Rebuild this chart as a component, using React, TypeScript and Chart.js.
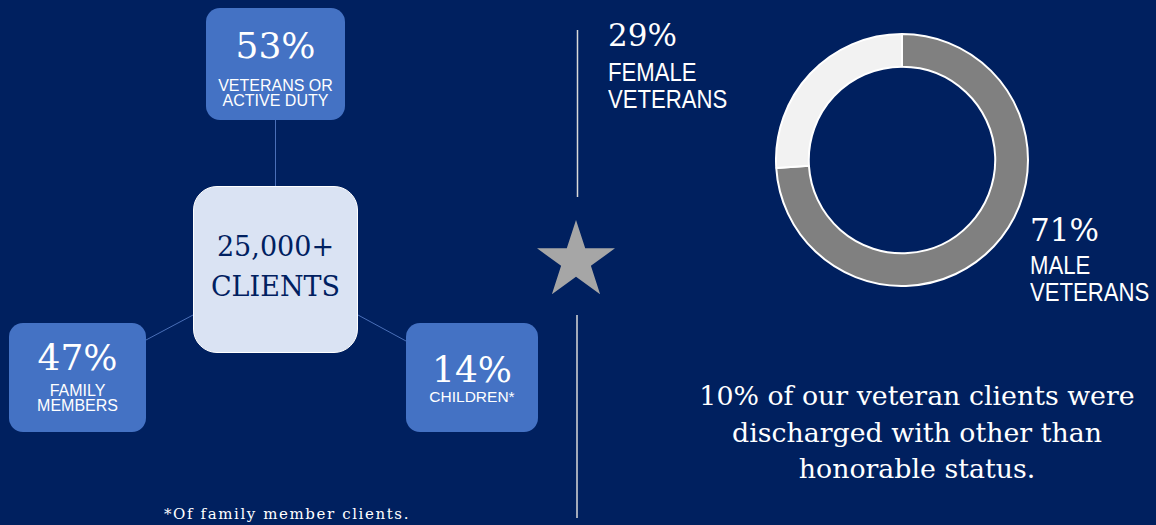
import React, { useEffect, useRef } from "react";
import { Chart, registerables } from "chart.js";

Chart.register(...registerables);

// ---- data ----
const clientTotal = "25,000+";
const clientTotalLabel = "CLIENTS";
const clientGroups = ["VETERANS OR\nACTIVE DUTY", "FAMILY\nMEMBERS", "CHILDREN*"];
const clientShares = [53, 47, 14];
const veteranGenders = ["MALE\nVETERANS", "FEMALE\nVETERANS"];
const veteranShareLabels = [71, 29];
// ring proportions as drawn in the picture
const ringValues = [74, 26];
const dischargeNote = "10% of our veteran clients were\ndischarged with other than\nhonorable status.";
const footnote = "*Of family member clients.";

const BG = "#00205F";
const BOX = "#4472C4";
const SERIF = "'DejaVu Serif', 'Liberation Serif', serif";
const SANS = "'Liberation Sans', Arial, sans-serif";

function Donut() {
  const ref = useRef<HTMLCanvasElement | null>(null);
  useEffect(() => {
    if (!ref.current) return;
    const chart = new Chart(ref.current, {
      type: "doughnut",
      data: {
        labels: veteranGenders.map((s) => s.replace("\n", " ")),
        datasets: [
          {
            data: ringValues,
            backgroundColor: ["#808080", "#F2F2F2"],
            borderColor: "#FFFFFF",
            borderWidth: 2,
          },
        ],
      },
      options: {
        animation: false,
        responsive: false,
        maintainAspectRatio: false,
        cutout: "74%",
        layout: { padding: 0 },
        plugins: { legend: { display: false }, tooltip: { enabled: false } },
      },
    });
    return () => chart.destroy();
  }, []);
  return <canvas ref={ref} width={254} height={254} style={{ position: "absolute", left: 775, top: 33, width: 254, height: 254 }} />;
}

function Box(props: { left: number; top: number; w: number; h: number; pct: number; label: string; pctTop: number; pctSize: number; labelTop: number; labelSize: number; lh: number }) {
  const p = props;
  return (
    <div style={{ position: "absolute", left: p.left, top: p.top, width: p.w, height: p.h, background: BOX, borderRadius: 14, color: "#fff" }}>
      <div style={{ position: "absolute", left: 0, right: 0, top: p.pctTop, textAlign: "center", fontFamily: SERIF, fontSize: p.pctSize, lineHeight: 1 }}>
        {p.pct}%
      </div>
      <div style={{ position: "absolute", left: 0, right: 0, top: p.labelTop, textAlign: "center", fontFamily: SANS, fontSize: p.labelSize, lineHeight: p.lh + "px", whiteSpace: "pre" }}>
        {p.label}
      </div>
    </div>
  );
}

function Star(props: { cx: number; cy: number; r: number }) {
  const pts: string[] = [];
  for (let i = 0; i < 10; i++) {
    const rr = i % 2 === 0 ? props.r : props.r * 0.382;
    const a = -Math.PI / 2 + (i * Math.PI) / 5;
    pts.push(`${props.cx + rr * Math.cos(a)},${props.cy + rr * Math.sin(a)}`);
  }
  return <polygon points={pts.join(" ")} fill="#A6A6A6" />;
}

const narrowStyle: React.CSSProperties = {
  position: "absolute",
  color: "#fff",
  fontFamily: SANS,
  fontSize: 25,
  lineHeight: "27px",
  whiteSpace: "pre",
  transform: "scaleX(0.885)",
  transformOrigin: "left top",
};

export default function App() {
  return (
    <div style={{ position: "absolute", left: 0, top: 0, width: 1156, height: 525, background: BG, overflow: "hidden" }}>
      <svg width={1156} height={525} style={{ position: "absolute", left: 0, top: 0 }}>
        <line x1={275.5} y1={120} x2={275.5} y2={186} stroke="#4A6FB8" strokeWidth={1} />
        <line x1={146} y1={340} x2={193} y2={315} stroke="#4A6FB8" strokeWidth={1} />
        <line x1={358} y1={315} x2={406} y2={341} stroke="#4A6FB8" strokeWidth={1} />
        <line x1={577.5} y1={30} x2={577.5} y2={197} stroke="#D9D9D9" strokeWidth={1.5} />
        <line x1={577} y1={315} x2={577} y2={518} stroke="#D9D9D9" strokeWidth={1.5} />
        <Star cx={576} cy={261} r={41} />
      </svg>

      <Box left={206} top={8} w={139} h={112} pct={clientShares[0]} label={clientGroups[0]} pctTop={20} pctSize={36} labelTop={70} labelSize={16} lh={15} />
      <Box left={9} top={323} w={137} h={109} pct={clientShares[1]} label={clientGroups[1]} pctTop={17} pctSize={36} labelTop={60} labelSize={16} lh={15} />
      <Box left={406} top={323} w={132} h={109} pct={clientShares[2]} label={clientGroups[2]} pctTop={29} pctSize={36} labelTop={66} labelSize={15.5} lh={15} />

      <div style={{ position: "absolute", left: 193, top: 186, width: 165, height: 167, boxSizing: "border-box", background: "#DAE3F3", border: "1.5px solid #FFFFFF", borderRadius: 24, color: "#002060", fontFamily: SERIF, textAlign: "center" }}>
        <div style={{ position: "absolute", left: 0, right: 0, top: 46, fontSize: 27, lineHeight: 1 }}>{clientTotal}</div>
        <div style={{ position: "absolute", left: 0, right: 0, top: 86, fontSize: 27, lineHeight: 1 }}>{clientTotalLabel}</div>
      </div>

      <div style={{ position: "absolute", left: 608, top: 20, color: "#fff", fontFamily: SERIF, fontSize: 31, lineHeight: 1 }}>{veteranShareLabels[1]}%</div>
      <div style={{ ...narrowStyle, left: 608, top: 59 }}>{veteranGenders[1]}</div>

      <div style={{ position: "absolute", left: 1030, top: 215, color: "#fff", fontFamily: SERIF, fontSize: 31, lineHeight: 1 }}>{veteranShareLabels[0]}%</div>
      <div style={{ ...narrowStyle, left: 1030, top: 252 }}>{veteranGenders[0]}</div>

      <Donut />

      <div style={{ position: "absolute", left: 677, width: 480, top: 378, color: "#fff", fontFamily: SERIF, fontSize: 26.8, lineHeight: "36.5px", textAlign: "center", whiteSpace: "pre" }}>
        {dischargeNote}
      </div>

      <div style={{ position: "absolute", left: 137, width: 300, top: 505, color: "#fff", fontFamily: SERIF, fontSize: 15, letterSpacing: 1.6, textAlign: "center", whiteSpace: "pre" }}>
        {footnote}
      </div>
    </div>
  );
}
